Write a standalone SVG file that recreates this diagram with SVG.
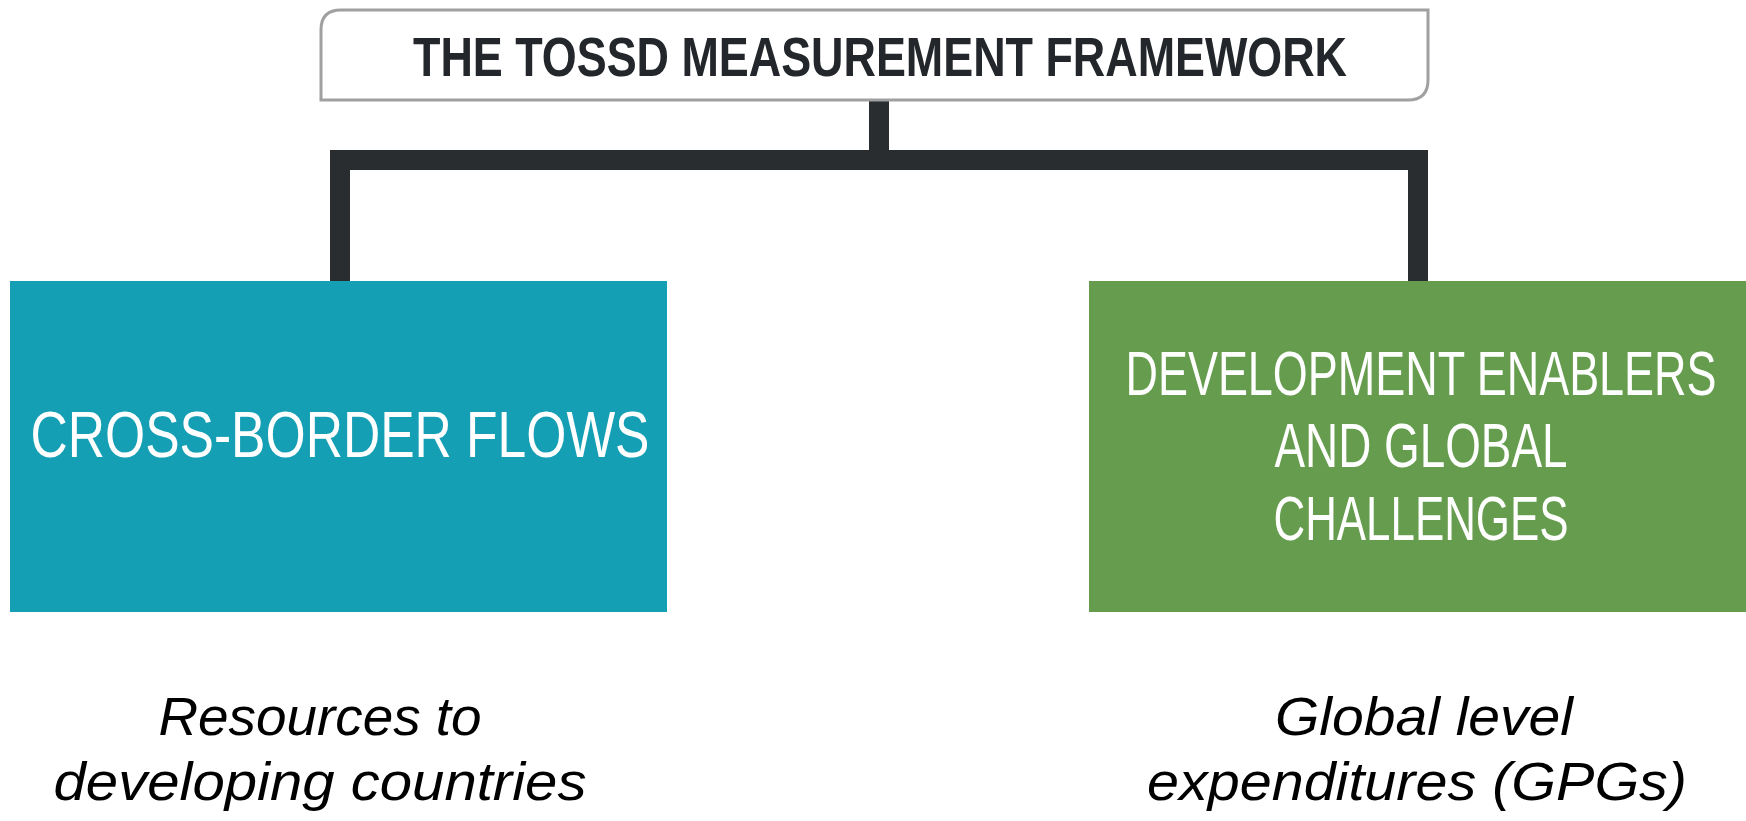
<svg xmlns="http://www.w3.org/2000/svg" width="1746" height="821" viewBox="0 0 1746 821">
<style>
.title{font-family:"Liberation Sans",Arial,sans-serif;font-weight:bold;font-size:56px;fill:#23262a;text-anchor:middle}
.box{font-family:"Liberation Sans",Arial,sans-serif;font-size:45px;fill:#ffffff;text-anchor:middle}
.note{font-family:"Liberation Sans",Arial,sans-serif;font-style:italic;font-size:54px;fill:#000000;text-anchor:middle}
.conn{fill:none;stroke:#2a2d30;stroke-width:20;stroke-linejoin:miter;stroke-linecap:butt}
</style>
<rect width="1746" height="821" fill="#ffffff"/>
<g id="connectors">
<path class="conn" d="M879 100 V160"/>
<path class="conn" d="M340 281 V160 H1418 V281"/>
</g>
<g id="title">
<path d="M341 10 H1428 V80 Q1428 100 1408 100 H321 V30 Q321 10 341 10 Z" fill="#ffffff" stroke="#a0a0a0" stroke-width="3"/>
<text class="title" x="880" y="76" textLength="934" lengthAdjust="spacingAndGlyphs">THE TOSSD MEASUREMENT FRAMEWORK</text>
</g>
<g id="cross-border">
<rect x="10" y="281" width="657" height="331" fill="#149fb4"/>
<text class="box" transform="translate(340 457) scale(1 1.45)" font-size="50" textLength="619" lengthAdjust="spacingAndGlyphs">CROSS-BORDER FLOWS</text>
</g>
<g id="development">
<rect x="1089" y="281" width="657" height="331" fill="#669c4e"/>
<text class="box" transform="translate(1421 395) scale(1 1.4)" textLength="591" lengthAdjust="spacingAndGlyphs">DEVELOPMENT ENABLERS</text>
<text class="box" transform="translate(1421 467) scale(1 1.4)" textLength="293" lengthAdjust="spacingAndGlyphs">AND GLOBAL</text>
<text class="box" transform="translate(1421 540) scale(1 1.4)" textLength="295" lengthAdjust="spacingAndGlyphs">CHALLENGES</text>
</g>
<g id="note-left">
<text class="note" x="320" y="735" textLength="323" lengthAdjust="spacingAndGlyphs">Resources to</text>
<text class="note" x="320" y="800" textLength="533" lengthAdjust="spacingAndGlyphs">developing countries</text>
</g>
<g id="note-right">
<text class="note" x="1424" y="735" textLength="298" lengthAdjust="spacingAndGlyphs">Global level</text>
<text class="note" x="1417" y="800" textLength="540" lengthAdjust="spacingAndGlyphs">expenditures (GPGs)</text>
</g>
</svg>
